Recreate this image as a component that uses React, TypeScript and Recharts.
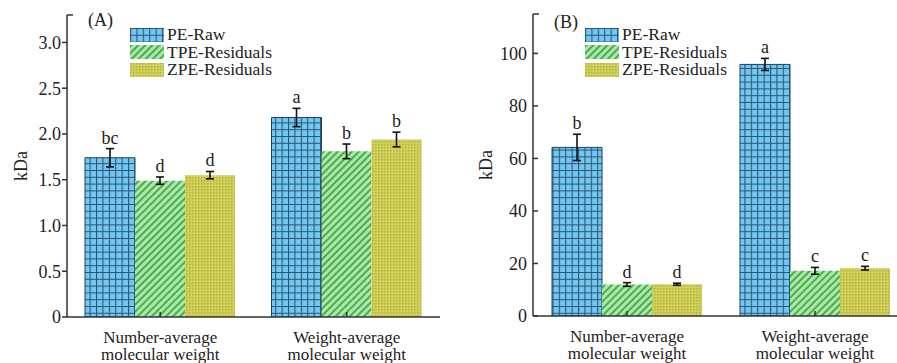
import { BarChart, Bar, XAxis, YAxis, ErrorBar, LabelList, Legend } from "recharts"

const serif = '"Liberation Serif", "Times New Roman", serif'

const categories = ["Number-average molecular weight", "Weight-average molecular weight"]
const catLine1 = ["Number-average", "Weight-average"]
const catLine2 = ["molecular weight", "molecular weight"]
const seriesNames = ["PE-Raw", "TPE-Residuals", "ZPE-Residuals"]

// panel A (kDa)
const aPeRaw = [1.74, 2.18]
const aPeRawErr = [0.1, 0.1]
const aPeRawSig = ["bc", "a"]
const aTpe = [1.49, 1.81]
const aTpeErr = [0.04, 0.08]
const aTpeSig = ["d", "b"]
const aZpe = [1.55, 1.94]
const aZpeErr = [0.04, 0.08]
const aZpeSig = ["d", "b"]
const aTicks = [0, 0.5, 1.0, 1.5, 2.0, 2.5, 3.0, 3.3]

// panel B (kDa)
const bPeRaw = [64.2, 95.8]
const bPeRawErr = [5, 2.3]
const bPeRawSig = ["b", "a"]
const bTpe = [12, 17.2]
const bTpeErr = [0.7, 1.3]
const bTpeSig = ["d", "c"]
const bZpe = [12.1, 18.2]
const bZpeErr = [0.4, 0.7]
const bZpeSig = ["d", "c"]
const bTicks = [0, 20, 40, 60, 80, 100, 115]

const fills = ["url(#peGrid)", "url(#tpeHatch)", "url(#zpeDots)"]

function buildRows(pe: number[], peE: number[], peS: string[], t: number[], tE: number[], tS: string[], z: number[], zE: number[], zS: string[]) {
  return categories.map((name, i) => ({
    name,
    pe: pe[i], peErr: peE[i], peSig: peS[i],
    tpe: t[i], tpeErr: tE[i], tpeSig: tS[i],
    zpe: z[i], zpeErr: zE[i], zpeSig: zS[i],
  }))
}

const dataA = buildRows(aPeRaw, aPeRawErr, aPeRawSig, aTpe, aTpeErr, aTpeSig, aZpe, aZpeErr, aZpeSig)
const dataB = buildRows(bPeRaw, bPeRawErr, bPeRawSig, bTpe, bTpeErr, bTpeSig, bZpe, bZpeErr, bZpeSig)

// letter placed just above the error bar cap
const sigLabel = (vals: number[], errs: number[]) => (props: any) => {
  const x = Number(props.x), y = Number(props.y), w = Number(props.width), h = Number(props.height)
  const i = props.index
  const pxPerUnit = h / vals[i]
  const top = y - errs[i] * pxPerUnit
  return (
    <text x={x + w / 2} y={top - 5} textAnchor="middle" fontSize={18} fontFamily={serif} fill="#222">
      {props.value}
    </text>
  )
}

const CatTick = (props: any) => {
  const { x, y, payload } = props
  const i = categories.indexOf(payload.value)
  return (
    <text x={x} y={y} textAnchor="middle" fontSize={17} fontFamily={serif} fill="#222">
      <tspan x={x} dy={26}>{catLine1[i]}</tspan>
      <tspan x={x} dy={17}>{catLine2[i]}</tspan>
    </text>
  )
}

// y tick: outward or inward mark, top of axis gets an inward cap with no text
const YTick = (props: any) => {
  const { y, payload, axisX, dir, top, fmt } = props
  const isTop = payload.value === top
  const len = isTop ? 6 : 5
  const d = isTop ? 1 : dir
  return (
    <g>
      <line x1={axisX} x2={axisX + d * len} y1={y} y2={y} stroke="#333" strokeWidth={1.5} />
      {!isTop && (
        <text x={axisX - 6} y={y} dy="0.36em" textAnchor="end" fontSize={18} fontFamily={serif} fill="#222">
          {fmt(payload.value)}
        </text>
      )}
    </g>
  )
}

const LegendBox = () => (
  <div style={{ fontFamily: serif, fontSize: 17, color: "#222" }}>
    {seriesNames.map((n, i) => (
      <div key={n} style={{ display: "flex", alignItems: "center", height: 17.5 }}>
        <svg width={34} height={14} style={{ marginRight: 3 }}>
          <rect x={0} y={0} width={34} height={14} fill={fills[i]} />
        </svg>
        <span style={{ lineHeight: "17px", fontSize: 17.5 }}>{n}</span>
      </div>
    ))}
  </div>
)

const YLabel = (props: any) => {
  const vb = props.viewBox
  const cx = vb.x + props.dx0
  const cy = vb.y + vb.height / 2
  return (
    <text x={cx} y={cy} transform={`rotate(-90 ${cx} ${cy})`} textAnchor="middle" dominantBaseline="central" fontSize={18} fontFamily={serif} fill="#222">
      kDa
    </text>
  )
}

function Panel(props: {
  data: any[]; aVals: number[][]; aErrs: number[][]; domainMax: number; ticks: number[]
  yWidth: number; width: number; top: number; right: number; xHeight: number
  dir: number; fmt: (v: number) => string; labelX: number; legendLeft: number
}) {
  const p = props
  const keys = ["pe", "tpe", "zpe"]
  return (
    <BarChart width={p.width} height={363} data={p.data} barSize={50} barGap={0}
      margin={{ top: p.top, right: p.right, bottom: 0, left: 0 }}>
      <XAxis dataKey="name" height={p.xHeight} stroke="#333" strokeWidth={1.5} tickSize={-5} tickMargin={5}
        tick={<CatTick />} interval={0} />
      <YAxis width={p.yWidth} domain={[0, p.domainMax]} ticks={p.ticks} interval={0} allowDataOverflow stroke="#333" strokeWidth={1.5}
        tickLine={false}
        tick={<YTick axisX={p.yWidth} dir={p.dir} top={p.domainMax} fmt={p.fmt} />}
        label={<YLabel dx0={p.labelX} />} />
      <Legend layout="vertical" align="center" verticalAlign="middle" content={<LegendBox />}
        wrapperStyle={{ position: "absolute", left: p.legendLeft, top: 26, width: "auto" }} />
      {keys.map((k, i) => (
        <Bar key={k} dataKey={k} name={seriesNames[i]} fill={fills[i]} isAnimationActive={false}
          stroke={i === 0 ? "#1d3f5c" : "none"} strokeWidth={i === 0 ? 1 : 0}>
          <ErrorBar dataKey={k + "Err"} width={4} stroke="#111" strokeWidth={1.6} direction="y" />
          <LabelList dataKey={k + "Sig"} content={sigLabel(p.aVals[i], p.aErrs[i])} />
        </Bar>
      ))}
    </BarChart>
  )
}

export default function App() {
  return (
    <div style={{ position: "absolute", left: 0, top: 0, width: 897, height: 363, overflow: "hidden", background: "#fff" }}>
      <svg width={0} height={0} style={{ position: "absolute" }}>
        <defs>
          <pattern id="peGrid" patternUnits="userSpaceOnUse" width={6.4} height={6.8}>
            <rect x={0} y={0} width={6.4} height={6.8} fill="#72c6f2" />
            <path d="M0 0.5 H6.4 M0.5 0 V6.8" stroke="#2a5570" strokeWidth={1.1} />
          </pattern>
          <pattern id="tpeHatch" patternUnits="userSpaceOnUse" width={5} height={5} patternTransform="rotate(45)">
            <rect x={0} y={0} width={5} height={5} fill="#a9eaa6" />
            <line x1={1} y1={0} x2={1} y2={5} stroke="#3f9e48" strokeWidth={1.7} />
          </pattern>
          <pattern id="zpeDots" patternUnits="userSpaceOnUse" width={3} height={3}>
            <rect x={0} y={0} width={3} height={3} fill="#d0d05a" />
            <rect x={0} y={0} width={1.5} height={1.5} fill="#b4b43e" />
          </pattern>
        </defs>
      </svg>
      <div style={{ position: "absolute", left: 0, top: 0 }}>
        <Panel data={dataA} aVals={[aPeRaw, aTpe, aZpe]} aErrs={[aPeRawErr, aTpeErr, aZpeErr]} domainMax={3.3}
          ticks={aTicks} yWidth={67} width={460} top={15} right={20} xHeight={46}
          dir={-1} fmt={(v) => (v === 0 ? "0" : v.toFixed(1))} labelX={21} legendLeft={130} />
        <div style={{ position: "absolute", left: 88, top: 10, fontFamily: serif, fontSize: 18, color: "#222" }}>(A)</div>
      </div>
      <div style={{ position: "absolute", left: 450, top: 0 }}>
        <Panel data={dataB} aVals={[bPeRaw, bTpe, bZpe]} aErrs={[bPeRawErr, bTpeErr, bZpeErr]} domainMax={115}
          ticks={bTicks} yWidth={83} width={470} top={14} right={11} xHeight={47}
          dir={1} fmt={(v) => String(v)} labelX={36} legendLeft={135} />
        <div style={{ position: "absolute", left: 104, top: 12, fontFamily: serif, fontSize: 18, color: "#222" }}>(B)</div>
      </div>
    </div>
  )
}
